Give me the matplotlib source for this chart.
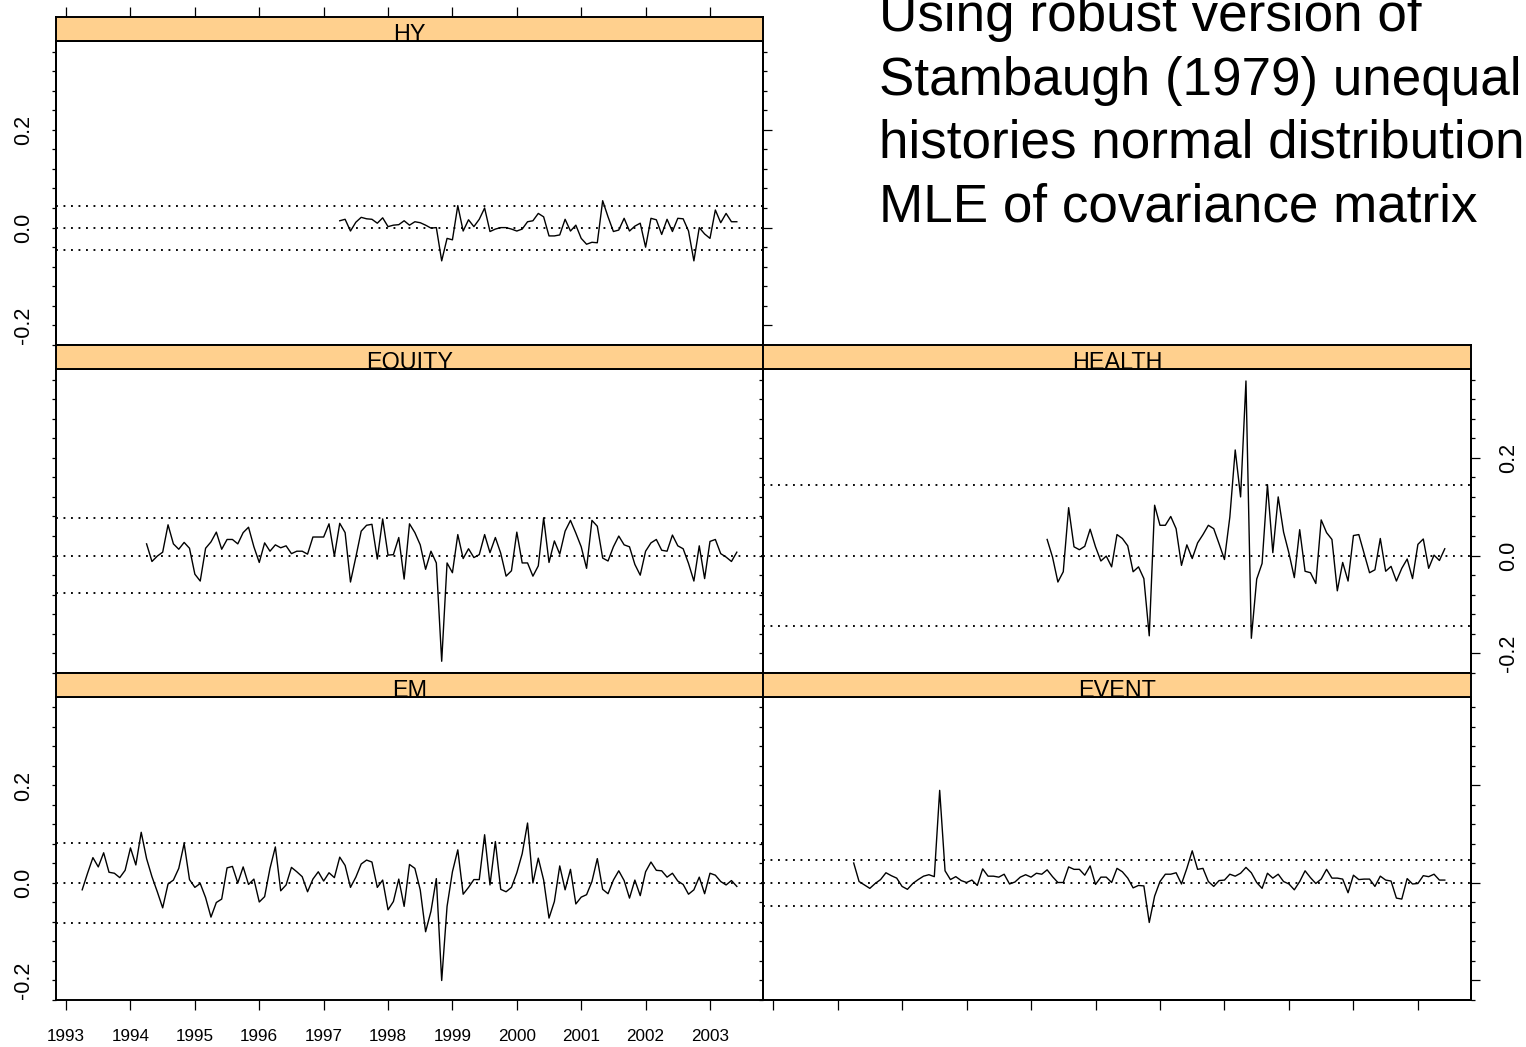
import numpy as np
import matplotlib
matplotlib.use("Agg")
import matplotlib.pyplot as plt

plt.rcParams['font.family'] = ['Liberation Sans', 'DejaVu Sans']

W, H, DPI = 1526, 1047, 100

# ---------------- data (monthly returns, first month April 1993) ----------------
FIRST_YEAR = 1993
FIRST_MONTH = 4

em = [-0.014, 0.020, 0.052, 0.033, 0.062, 0.022, 0.020, 0.011, 0.026, 0.072,
      0.037, 0.104, 0.050, 0.013, -0.018, -0.051, -0.002, 0.006, 0.030, 0.081,
      0.007, -0.009, -0.001, -0.030, -0.070, -0.040, -0.033, 0.031, 0.034, 0.000,
      0.033, -0.003, 0.008, -0.039, -0.028, 0.030, 0.074, -0.016, -0.004, 0.032,
      0.023, 0.013, -0.018, 0.008, 0.023, 0.004, 0.021, 0.011, 0.053, 0.036,
      -0.009, 0.012, 0.039, 0.047, 0.043, -0.009, 0.006, -0.055, -0.038, 0.008,
      -0.048, 0.038, 0.030, -0.014, -0.100, -0.058, 0.009, -0.200, -0.048, 0.023,
      0.068, -0.023, -0.009, 0.007, 0.007, 0.099, -0.004, 0.085, -0.013, -0.018,
      -0.009, 0.021, 0.060, 0.123, 0.000, 0.051, 0.006, -0.072, -0.038, 0.035,
      -0.014, 0.028, -0.043, -0.029, -0.024, 0.003, 0.050, -0.013, -0.022, 0.006,
      0.025, 0.005, -0.031, 0.006, -0.026, 0.023, 0.043, 0.026, 0.025, 0.012,
      0.020, 0.004, -0.003, -0.023, -0.014, 0.012, -0.022, 0.020, 0.016, 0.003,
      -0.004, 0.005, -0.007]

equity = [0.024, -0.012, -0.001, 0.007, 0.063, 0.024, 0.013, 0.027, 0.015, -0.038,
          -0.052, 0.015, 0.028, 0.048, 0.013, 0.033, 0.033, 0.024, 0.047, 0.058,
          0.018, -0.014, 0.026, 0.009, 0.022, 0.016, 0.020, 0.004, 0.009, 0.009,
          0.003, 0.038, 0.038, 0.038, 0.065, -0.001, 0.066, 0.047, -0.054, -0.003,
          0.050, 0.062, 0.064, -0.007, 0.075, 0.001, 0.002, 0.037, -0.048, 0.065,
          0.047, 0.022, -0.028, 0.009, -0.015, -0.216, -0.015, -0.035, 0.043, -0.006,
          0.014, -0.004, 0.002, 0.043, 0.006, 0.037, 0.005, -0.042, -0.031, 0.048,
          -0.015, -0.015, -0.042, -0.021, 0.077, -0.014, 0.030, 0.003, 0.050, 0.072,
          0.046, 0.018, -0.026, 0.072, 0.060, -0.005, -0.011, 0.018, 0.040, 0.022,
          0.018, -0.018, -0.040, 0.009, 0.026, 0.033, 0.011, 0.009, 0.042, 0.020,
          0.014, -0.016, -0.052, 0.020, -0.047, 0.029, 0.033, 0.004, -0.003, -0.012,
          0.007]

health = [0.033, -0.003, -0.054, -0.033, 0.098, 0.018, 0.012, 0.019, 0.054, 0.018,
          -0.011, -0.001, -0.023, 0.043, 0.035, 0.020, -0.033, -0.023, -0.047, -0.164,
          0.103, 0.062, 0.062, 0.080, 0.055, -0.020, 0.022, -0.006, 0.026, 0.043,
          0.062, 0.055, 0.024, -0.008, 0.079, 0.216, 0.120, 0.357, -0.169, -0.048,
          -0.016, 0.145, 0.006, 0.120, 0.048, 0.005, -0.045, 0.053, -0.032, -0.035,
          -0.057, 0.073, 0.047, 0.033, -0.072, -0.014, -0.052, 0.041, 0.043, 0.004,
          -0.035, -0.029, 0.035, -0.032, -0.022, -0.052, -0.026, -0.007, -0.047, 0.023,
          0.034, -0.026, 0.001, -0.010, 0.014]

hy = [0.014, 0.017, -0.007, 0.011, 0.021, 0.018, 0.017, 0.009, 0.020, 0.002,
      0.005, 0.006, 0.014, 0.005, 0.012, 0.010, 0.005, -0.001, 0.000, -0.068,
      -0.022, -0.025, 0.045, -0.007, 0.016, 0.002, 0.017, 0.040, -0.008, -0.003,
      0.000, 0.000, -0.003, -0.007, -0.003, 0.012, 0.014, 0.029, 0.022, -0.017,
      -0.017, -0.015, 0.017, -0.007, 0.005, -0.022, -0.034, -0.030, -0.031, 0.055,
      0.022, -0.008, -0.005, 0.019, -0.007, 0.003, 0.009, -0.040, 0.019, 0.016,
      -0.014, 0.017, -0.008, 0.019, 0.018, -0.007, -0.068, 0.000, -0.013, -0.022,
      0.036, 0.010, 0.029, 0.012, 0.012]

event = [0.041, 0.003, -0.004, -0.011, -0.001, 0.007, 0.021, 0.015, 0.010, -0.007,
         -0.013, -0.001, 0.007, 0.014, 0.017, 0.013, 0.190, 0.025, 0.007, 0.013,
         0.005, 0.001, 0.006, -0.005, 0.029, 0.014, 0.014, 0.012, 0.018, -0.002,
         0.002, 0.012, 0.017, 0.012, 0.020, 0.018, 0.027, 0.013, 0.001, 0.001,
         0.033, 0.028, 0.028, 0.016, 0.035, -0.003, 0.012, 0.012, 0.001, 0.030,
         0.023, 0.010, -0.010, -0.005, -0.006, -0.081, -0.027, 0.003, 0.018, 0.018,
         0.021, -0.002, 0.030, 0.066, 0.028, 0.030, 0.003, -0.007, 0.005, 0.006,
         0.018, 0.014, 0.020, 0.032, 0.021, 0.001, -0.011, 0.020, 0.010, 0.018,
         0.003, -0.002, -0.014, 0.003, 0.025, 0.011, -0.001, 0.008, 0.028, 0.010,
         0.010, 0.008, -0.020, 0.016, 0.007, 0.008, 0.008, -0.007, 0.014, 0.006,
         0.004, -0.031, -0.033, 0.009, -0.002, -0.001, 0.015, 0.013, 0.018, 0.006,
         0.006]

series_names = ["HY", "EQUITY", "HEALTH", "EM", "EVENT"]
series_values = [hy, equity, health, em, event]
start_offsets = [48, 12, 48, 0, 12]          # months after April 1993
band_halfwidth = [0.045, 0.076, 0.144, 0.082, 0.048]
year_ticks = list(range(1993, 2004))
y_major = [-0.2, 0.0, 0.2]
y_major_labels = ["-0.2", "0.0", "0.2"]
y_minor = [round(-0.24 + 0.04 * k, 2) for k in range(16)]

title_lines = ["Using robust version of",
               "Stambaugh (1979) unequal",
               "histories normal distribution",
               "MLE of covariance matrix"]

# ---------------- layout ----------------
fig = plt.figure(figsize=(W / DPI, H / DPI), dpi=DPI)


def px_axes(x0, y0, x1, y1, **kw):
    return fig.add_axes([x0 / W, 1 - y1 / H, (x1 - x0) / W, (y1 - y0) / H], **kw)


cols = {0: (56, 763), 1: (763, 1471)}
rows = {0: (17, 41, 345), 1: (345, 369, 673), 2: (673, 697, 1000)}
placement = {"HY": (0, 0), "EQUITY": (1, 0), "HEALTH": (1, 1), "EM": (2, 0), "EVENT": (2, 1)}

n_all = len(em)
t_first = FIRST_YEAR + (FIRST_MONTH - 1) / 12.0
t_last = t_first + (n_all - 1) / 12.0
pad = 0.04 * (t_last - t_first)
XLIM = (t_first - pad, t_last + pad)
YLIM = (-0.2395, 0.3815)

STRIP_COLOR = "#FFD08E"
FRAME_LW = 1.4

for name, vals, off, band in zip(series_names, series_values, start_offsets, band_halfwidth):
    r, c = placement[name]
    x0, x1 = cols[c]
    st, sb, pb = rows[r]

    ax = px_axes(x0, sb, x1, pb)
    t = t_first + (off + np.arange(len(vals))) / 12.0
    ax.plot(t, vals, color="black", lw=1.0, zorder=3)
    for lev in (band, 0.0, -band):
        ax.axhline(lev, color="black", lw=1.35, ls=(0, (1.0, 3.0)), zorder=2)
    ax.set_xlim(XLIM)
    ax.set_ylim(YLIM)
    for s in ax.spines.values():
        s.set_linewidth(FRAME_LW)

    # y axis (left side)
    left_ticks = c == 0
    ax.set_yticks(y_major)
    ax.set_yticks(y_minor, minor=True)
    ax.set_yticklabels(y_major_labels)
    ax.tick_params(axis="y", which="both", direction="out", left=left_ticks, right=False,
                   labelleft=(left_ticks and name in ("HY", "EM")), labelright=False,
                   length=3.0, width=0.9, labelsize=15.5, pad=13)
    for lab in ax.get_yticklabels():
        lab.set_rotation(90)
        lab.set_va("center")

    # right side ticks
    right_ticks = name in ("HY", "HEALTH", "EVENT")
    if right_ticks:
        ax2 = ax.twinx()
        ax2.set_ylim(YLIM)
        ax2.set_yticks(y_major)
        ax2.set_yticks(y_minor, minor=True)
        ax2.set_yticklabels(y_major_labels)
        ax2.tick_params(axis="y", which="major", direction="out", length=6.5, width=0.9,
                        labelsize=15.5, pad=13, labelright=(name == "HEALTH"))
        ax2.tick_params(axis="y", which="minor", direction="out", length=3.2, width=0.9)
        for lab in ax2.get_yticklabels():
            lab.set_rotation(90)
            lab.set_va("center")
        for s in ax2.spines.values():
            s.set_linewidth(FRAME_LW)

    # x axis
    ax.set_xticks(year_ticks)
    ax.set_xticklabels([str(y) for y in year_ticks])
    bottom_row = r == 2
    ax.tick_params(axis="x", which="both", direction="out", bottom=bottom_row, top=False,
                   labelbottom=(name == "EM"), labeltop=False, length=7.2, width=0.9,
                   labelsize=12.3, pad=13.5)

    # strip
    sax = px_axes(x0, st, x1, sb)
    sax.set_facecolor(STRIP_COLOR)
    sax.set_xlim(XLIM)
    sax.set_ylim(0, 1)
    sax.set_yticks([])
    for s in sax.spines.values():
        s.set_linewidth(FRAME_LW)
    if name == "HY":
        sax.set_xticks(year_ticks)
        sax.tick_params(axis="x", direction="out", top=True, bottom=False, labeltop=False,
                        labelbottom=False, length=7.2, width=0.9)
    else:
        sax.set_xticks([])
    sax.text(0.5, 0.0, name, transform=sax.transAxes, ha="center", va="baseline",
             fontsize=16.8, clip_on=True)

# top-right annotation
baselines = [31, 95, 158, 222]
for line, yb in zip(title_lines, baselines):
    fig.text(879 / W, 1 - yb / H, line, ha="left", va="baseline", fontsize=38.2)

fig.savefig("out.png", dpi=DPI)
